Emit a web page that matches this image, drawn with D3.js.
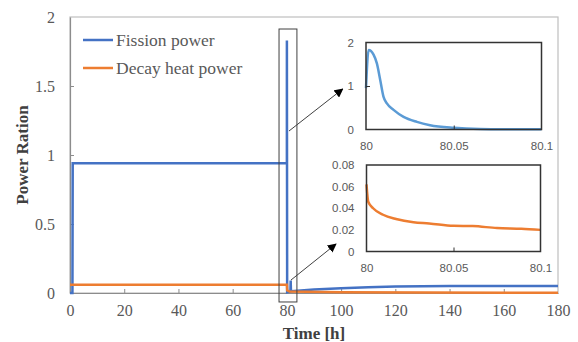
<!DOCTYPE html>
<html>
<head>
<meta charset="utf-8">
<script src="https://cdn.jsdelivr.net/npm/d3@7"></script>
<style>
  body { margin: 0; background: #fff; }
  svg { display: block; }
</style>
</head>
<body>
<div id="chart"></div>
<script>
// --- data ---
const fission = [
  [0, 0], [0.9, 0], [1.0, 0.94], [80, 0.94], [80.002, 1.83], [80.1, 0.005],
  [80.6, 0.008], [81.3, 0.01], [81.4, 0.09], [81.5, 0.012], [90, 0.025],
  [100, 0.035], [110, 0.042], [120, 0.047], [140, 0.05], [180, 0.05]
];
const decay = [
  [0, 0.06], [80, 0.06], [80.1, 0.02], [81, 0.01], [100, 0.005], [180, 0.002]
];
const fissionZoom = [
  [80, 0.95], [80.0015, 1.83], [80.0043, 1.72], [80.0062, 1.52], [80.0081, 1.14],
  [80.01, 0.75], [80.0119, 0.6], [80.0157, 0.45], [80.0214, 0.29], [80.029, 0.175],
  [80.0365, 0.1], [80.05, 0.04], [80.065, 0.012], [80.08, 0.006], [80.1, 0.004]
];
const decayZoom = [
  [80, 0.062], [80.0004, 0.054], [80.001, 0.046], [80.0038, 0.040], [80.0095, 0.034],
  [80.017, 0.030], [80.027, 0.027], [80.036, 0.026], [80.05, 0.0238], [80.061, 0.0235],
  [80.075, 0.0217], [80.089, 0.021], [80.1, 0.020]
];
const xTicks = [0, 20, 40, 60, 80, 100, 120, 140, 160, 180];
const yTicks = [0, 0.5, 1, 1.5, 2];
const zoomXTicks = [80, 80.05, 80.1];
const zoom1YTicks = [0, 1, 2];
const zoom2YTicks = [0, 0.02, 0.04, 0.06, 0.08];
const seriesNames = ['Fission power', 'Decay heat power'];
const colors = ['#4472C4', '#ED7D31'];
// highlighted window [t0, t1, v0, v1]
const windowBox = [77.1, 83.7, -0.065, 1.913];

const W = 578, H = 342;
const svg = d3.select('#chart').append('svg').attr('width', W).attr('height', H);

const x = d3.scaleLinear().domain([0, 180]).range([70, 558]);
const y = d3.scaleLinear().domain([0, 2]).range([293, 17]);

const serif = '"Liberation Serif", "Times New Roman", serif';
const sans = '"Liberation Sans", Arial, sans-serif';

svg.append('defs').append('marker')
  .attr('id', 'arr').attr('viewBox', '0 0 10 10')
  .attr('refX', 9).attr('refY', 5)
  .attr('markerWidth', 9).attr('markerHeight', 9)
  .attr('markerUnits', 'userSpaceOnUse')
  .attr('orient', 'auto')
  .append('path').attr('d', 'M0,0 L10,5 L0,10 z').attr('fill', '#000');

// plot frame
svg.append('rect')
  .attr('x', x(0)).attr('y', y(2))
  .attr('width', x(180) - x(0)).attr('height', y(0) - y(2))
  .attr('fill', 'none').attr('stroke', '#bfbfbf').attr('stroke-width', 1.2);

// axes
const gx = svg.append('g').attr('transform', `translate(0,${y(0)})`)
  .call(d3.axisBottom(x).tickValues(xTicks).tickSizeInner(-4).tickSizeOuter(0).tickPadding(12));
const gy = svg.append('g').attr('transform', `translate(${x(0)},0)`)
  .call(d3.axisLeft(y).tickValues(yTicks).tickSizeInner(-4).tickSizeOuter(0).tickPadding(15)
    .tickFormat(d => d));
[gx, gy].forEach(g => {
  g.select('.domain').attr('stroke', '#8c8c8c').attr('stroke-width', 1.2);
  g.selectAll('.tick line').attr('stroke', '#8c8c8c');
  g.selectAll('.tick text').attr('fill', '#595959')
    .style('font-family', serif).style('font-size', '16px');
});
gy.selectAll('.tick').filter(d => d === 0 || d === 2).select('line').remove();
gx.selectAll('.tick').filter(d => d === 0 || d === 180).select('line').remove();

// titles
svg.append('text').attr('x', (x(0) + x(180)) / 2).attr('y', 339)
  .attr('text-anchor', 'middle').attr('fill', '#404040')
  .style('font-family', serif).style('font-size', '17px').style('font-weight', 'bold')
  .text('Time [h]');
svg.append('text').attr('transform', `translate(28,${(y(0) + y(2)) / 2}) rotate(-90)`)
  .attr('text-anchor', 'middle').attr('fill', '#404040')
  .style('font-family', serif).style('font-size', '17px').style('font-weight', 'bold')
  .text('Power Ration');

// lines
const line = d3.line().x(d => x(d[0])).y(d => y(d[1]));
svg.append('path').datum(fission).attr('d', line)
  .attr('fill', 'none').attr('stroke', colors[0]).attr('stroke-width', 2.5);
svg.append('path').datum(decay).attr('d', line)
  .attr('fill', 'none').attr('stroke', colors[1]).attr('stroke-width', 2.5);

// window box
svg.append('rect')
  .attr('x', x(windowBox[0])).attr('y', y(windowBox[3]))
  .attr('width', x(windowBox[1]) - x(windowBox[0]))
  .attr('height', y(windowBox[2]) - y(windowBox[3]))
  .attr('fill', 'none').attr('stroke', '#404040').attr('stroke-width', 1);

// legend
const leg = svg.append('g');
seriesNames.forEach((name, i) => {
  const ly = 40 + i * 28;
  leg.append('line').attr('x1', 83).attr('x2', 113).attr('y1', ly).attr('y2', ly)
    .attr('stroke', colors[i]).attr('stroke-width', 2.5);
  leg.append('text').attr('x', 116).attr('y', ly + 6).attr('fill', '#595959')
    .style('font-family', serif).style('font-size', '17.5px').text(name);
});

// insets
function inset(data, yDomain, yTickVals, box, color, fmt, yTickMark) {
  const ix = d3.scaleLinear().domain([80, 80.1]).range([box[0], box[1]]);
  const iy = d3.scaleLinear().domain(yDomain).range([box[3], box[2]]);
  const g = svg.append('g');
  g.append('path').datum(data)
    .attr('d', d3.line().curve(d3.curveMonotoneX).x(d => ix(d[0])).y(d => iy(d[1])))
    .attr('fill', 'none').attr('stroke', color).attr('stroke-width', 2.5);
  g.append('rect').attr('x', box[0]).attr('y', box[2])
    .attr('width', box[1] - box[0]).attr('height', box[3] - box[2])
    .attr('fill', 'none').attr('stroke', '#333').attr('stroke-width', 1.5);
  const ax = g.append('g').attr('transform', `translate(0,${box[3]})`)
    .call(d3.axisBottom(ix).tickValues(zoomXTicks).tickSizeInner(-4).tickSizeOuter(0).tickPadding(12)
      .tickFormat(d => +d.toFixed(2)));
  const ay = g.append('g').attr('transform', `translate(${box[0]},0)`)
    .call(d3.axisLeft(iy).tickValues(yTickVals).tickSizeInner(yTickMark ? -4 : 0).tickSizeOuter(0)
      .tickPadding(12).tickFormat(fmt));
  [ax, ay].forEach(a => {
    a.select('.domain').remove();
    a.selectAll('.tick line').attr('stroke', '#333');
    a.selectAll('.tick text').attr('fill', '#595959')
      .style('font-family', sans).style('font-size', '11.5px');
  });
  ax.selectAll('.tick').filter(d => d !== 80.05).select('line').remove();
  ay.selectAll('.tick').filter(d => d !== yTickMark).select('line').remove();
}
inset(fissionZoom, [0, 2], zoom1YTicks, [366, 541.5, 42.5, 129.5], '#5B9BD5', d => d, 1);
inset(decayZoom, [0, 0.08], zoom2YTicks, [366.5, 540.5, 165, 251.5], colors[1],
  d => d === 0 ? '0' : d.toFixed(2), null);

// arrows from window to insets
svg.append('line').attr('x1', 289).attr('y1', 131).attr('x2', 342.7).attr('y2', 89)
  .attr('stroke', '#404040').attr('stroke-width', 1).attr('marker-end', 'url(#arr)');
svg.append('line').attr('x1', 291).attr('y1', 280).attr('x2', 336).attr('y2', 244)
  .attr('stroke', '#404040').attr('stroke-width', 1).attr('marker-end', 'url(#arr)');
</script>
</body>
</html>
